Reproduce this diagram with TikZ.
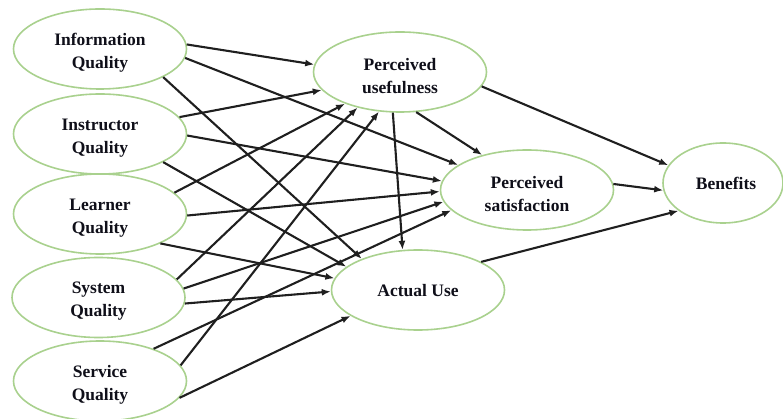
\documentclass[tikz,border=0pt]{standalone}
\usepackage{fontspec}
\setmainfont{Liberation Serif}
\usetikzlibrary{shapes.geometric,arrows.meta}
\definecolor{ellgreen}{RGB}{169,209,142}
\definecolor{txtc}{RGB}{15,15,25}
\tikzset{
  cbox/.style={ellipse, draw=ellgreen, line width=1.6pt, fill=white, inner sep=0pt,
    minimum width=173pt, minimum height=80pt},
  lbl/.style={align=center, text=txtc, inner sep=0pt,
    font=\bfseries\fontsize{17.5}{23}\selectfont},
  twoline/.style={lbl, yshift=-4pt},
  oneline/.style={lbl, yshift=-1pt},
  conn/.style={draw=black!88, line width=2.1pt, -{Latex[length=9pt,width=7pt]}}
}
\begin{document}
\begin{tikzpicture}[x=1pt,y=-1pt]
\useasboundingbox (0,0) rectangle (783,419);
\node[cbox, label={[twoline]center:Information\\Quality}] (iq) at (100,49) {};
\node[cbox, label={[twoline]center:Instructor\\Quality}] (inq) at (100,134) {};
\node[cbox, label={[twoline]center:Learner\\Quality}] (lq) at (100,214) {};
\node[cbox, label={[twoline]center:System\\Quality}] (sq) at (98.5,297.5) {};
\node[cbox, label={[twoline]center:Service\\Quality}] (seq) at (100,381) {};
\node[cbox, label={[twoline]center:Perceived\\usefulness}] (pu) at (400,72) {};
\node[cbox, label={[twoline]center:Perceived\\satisfaction}] (ps) at (527,190) {};
\node[cbox, label={[oneline]center:Actual Use}] (au) at (418,290) {};
\node[cbox, minimum width=120pt, label={[lbl, xshift=3pt]center:Benefits}] (ben) at (723,183) {};
% Information Quality
\draw[conn] (iq.3) -- (pu.175);
\draw[conn] (iq.-6) -- (ps.160);
\draw[conn] (iq.-24) -- (au.151);
% Instructor Quality
\draw[conn] (inq.12) -- (pu.193);
\draw[conn] (inq.-1) -- (ps.174);
\draw[conn] (inq.-24) -- (au.162);
% Learner Quality
\draw[conn] (lq.16) -- (pu.210);
\draw[conn] (lq.-1) -- (ps.181);
\draw[conn] (lq.-26) -- (au.172);
% System Quality
\draw[conn] (sq.13) -- (pu.220);
\draw[conn] (sq.6) -- (ps.188);
\draw[conn] (sq.-4) -- (au.181);
% Service Quality
\draw[conn] (seq.11) -- (pu.242);
\draw[conn] (seq.31) -- (ps.195);
\draw[conn] (seq.-12) -- (au.201);
% Middle
\draw[conn] (pu.260) -- (au.111);
\draw[conn] (pu.292) -- (ps.142);
\draw[conn] (pu.-10) -- (ben.162);
\draw[conn] (ps.4) -- (ben.187);
\draw[conn] (au.24) -- (ben.212);
\end{tikzpicture}
\end{document}
